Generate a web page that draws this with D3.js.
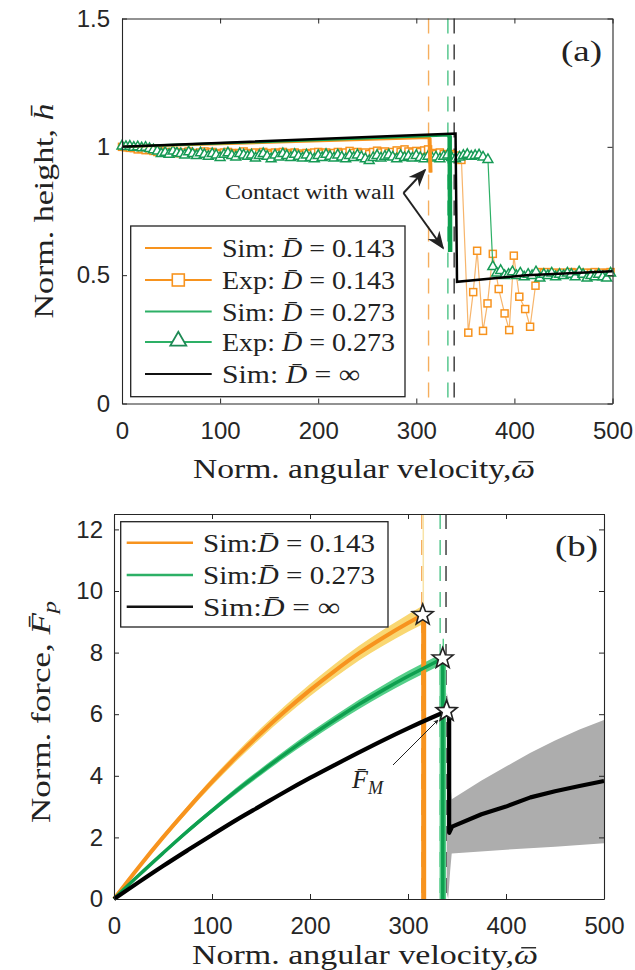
<!DOCTYPE html>
<html><head><meta charset="utf-8">
<script src="https://cdn.jsdelivr.net/npm/d3@7"></script>
<style>body{margin:0;background:#fff}svg{display:block}text{white-space:pre}</style>
</head><body>
<svg id="c" width="635" height="970"></svg>
<script>
// ---------- DATA ----------
const xTicks = [0, 100, 200, 300, 400, 500];
const yTicksA = [0, 0.5, 1, 1.5];
const yTickLabelsA = ["0", "0.5", "1", "1.5"];
const yTicksB = [0, 2, 4, 6, 8, 10, 12];

// Panel (a): normalized height
const simA_0143 = [[0, 1.0], [313.5, 1.035], [314.5, 0.90]];
const simA_0273 = [[0, 1.0], [334, 1.045], [334.5, 0.59]];
const simA_inf = [[0, 1.0], [340, 1.052], [341.5, 0.474], [412, 0.50], [500, 0.515]];
const expA_0143 = [[0,1.0],[4,0.998],[8,0.996],[12,0.995],[16,0.99],[20,0.992],[24,0.987],[28,0.988],[32,0.984],[36,0.98],[40,0.982],[44,0.978],[48,0.98],[52,0.976],[56,0.98],[60,0.975],[64,0.978],[68,0.982],[72,0.976],[76,0.972],[80,0.978],[84,0.982],[88,0.975],[92,0.98],[96,0.976],[100,0.972],[104,0.978],[108,0.98],[112,0.976],[116,0.97],[120,0.976],[124,0.982],[128,0.976],[132,0.972],[136,0.978],[140,0.974],[144,0.98],[148,0.976],[152,0.97],[156,0.978],[160,0.974],[164,0.98],[168,0.976],[172,0.97],[176,0.978],[180,0.974],[184,0.968],[188,0.976],[192,0.972],[196,0.978],[200,0.98],[204,0.974],[208,0.978],[212,0.972],[216,0.976],[220,0.98],[224,0.974],[228,0.978],[232,0.984],[236,0.976],[240,0.98],[244,0.974],[248,0.978],[252,0.972],[256,0.98],[260,0.985],[264,0.978],[268,0.982],[272,0.976],[276,0.98],[280,0.986],[284,0.98],[288,0.99],[292,0.982],[296,0.978],[300,0.984],[304,0.98],[308,0.986],[312,0.99],[316,0.976],[320,0.972],[324,0.978],[328,0.972],[332,0.968],[336,0.972],[340,0.966],[346,0.949],[353,0.276],[358,0.434],[362,0.595],[368,0.283],[372.6,0.39],[378,0.583],[384,0.446],[390,0.351],[394.7,0.286],[399.4,0.576],[405,0.416],[411,0.368],[416,0.299],[421.5,0.459],[426,0.512],[430,0.508],[434,0.512],[438,0.506],[442,0.51],[446,0.505],[450,0.51],[454,0.506],[458,0.512],[462,0.508],[466,0.51],[470,0.505],[474,0.51],[478,0.508],[482,0.512],[486,0.506],[490,0.51],[494,0.508],[498,0.512]];
const expA_0273 = [[0,1.005],[4,1.003],[8,1.004],[12,1.0],[16,1.002],[20,0.998],[24,1.0],[28,0.995],[32,0.99],[36,0.985],[40,0.975],[44,0.98],[48,0.972],[52,0.985],[56,0.978],[60,0.975],[64,0.97],[68,0.982],[72,0.975],[76,0.968],[80,0.978],[84,0.972],[88,0.965],[92,0.975],[96,0.97],[100,0.96],[104,0.972],[108,0.978],[112,0.968],[116,0.962],[120,0.975],[124,0.97],[128,0.965],[132,0.97],[136,0.958],[140,0.968],[144,0.975],[148,0.965],[152,0.955],[156,0.97],[160,0.962],[164,0.975],[168,0.968],[172,0.96],[176,0.972],[180,0.965],[184,0.958],[188,0.97],[192,0.96],[196,0.955],[200,0.968],[204,0.96],[208,0.972],[212,0.965],[216,0.958],[220,0.97],[224,0.962],[228,0.955],[232,0.968],[236,0.96],[240,0.97],[244,0.963],[248,0.955],[252,0.948],[256,0.96],[260,0.968],[264,0.958],[268,0.965],[272,0.97],[276,0.962],[280,0.955],[284,0.968],[288,0.96],[292,0.965],[296,0.958],[300,0.968],[304,0.96],[308,0.955],[312,0.965],[316,0.958],[320,0.962],[324,0.955],[328,0.965],[332,0.97],[336,0.96],[340,0.955],[344,0.962],[348,0.968],[352,0.972],[356,0.965],[360,0.968],[364,0.97],[368,0.962],[373,0.952],[378,0.535],[382,0.51],[386,0.52],[390,0.5],[394,0.505],[398,0.515],[402,0.5],[406,0.51],[410,0.495],[414,0.505],[418,0.5],[422,0.515],[426,0.49],[430,0.505],[434,0.5],[438,0.51],[442,0.495],[446,0.505],[450,0.5],[454,0.51],[458,0.505],[462,0.495],[466,0.515],[470,0.505],[474,0.49],[478,0.5],[482,0.495],[486,0.505],[490,0.495],[494,0.49],[498,0.51]];
const wallA = [312.5, 332.2, 338.6]; // dashed verticals (0.143, 0.273, inf)

// Panel (b): normalized force
const simB_0143 = [[0,0],[25,1.025],[50,2.0],[75,2.92],[100,3.8],[125,4.62],[150,5.39],[175,6.11],[200,6.78],[225,7.4],[250,7.98],[275,8.49],[300,8.96],[315,9.22]];
const bandB_0143 = [0,0.05,0.08,0.1,0.12,0.14,0.16,0.18,0.2,0.22,0.24,0.26,0.28,0.3];
const simB_0273 = [[0,0],[25,0.76],[50,1.49],[75,2.2],[100,2.87],[125,3.52],[150,4.13],[175,4.72],[200,5.28],[225,5.81],[250,6.32],[275,6.79],[300,7.23],[335.4,7.81]];
const bandB_0273 = [0,0.03,0.05,0.07,0.08,0.1,0.11,0.12,0.13,0.14,0.15,0.16,0.17,0.18];
const simB_inf = [[0,0],[25,0.54],[50,1.07],[75,1.58],[100,2.08],[125,2.57],[150,3.03],[175,3.49],[200,3.93],[225,4.35],[250,4.76],[275,5.16],[300,5.54],[325,5.9],[339.4,6.1]];
const simB_infPost = [[339.4,6.1],[342,6.0],[342,2.15],[345,2.35],[375,2.75],[400,3.0],[425,3.3],[450,3.5],[475,3.67],[500,3.83]];
const grayUpper = [[339.5,6.7],[341,6.5],[342.5,4.0],[344.6,3.24],[375,3.85],[400,4.3],[425,4.75],[450,5.15],[475,5.5],[500,5.81]];
const grayLower = [[339.5,0.2],[341,0.0],[343,0.9],[344.6,1.48],[400,1.6],[450,1.7],[500,1.81]];
const dropB = [316, 335.5]; // orange & green drop to zero
const starsB = [[315, 9.22], [335.4, 7.81], [339.4, 6.1]];
const wallB = [314, 332.8, 338.8];

// ---------- STYLE ----------
const SERIF = "'Liberation Serif','Times New Roman',serif";
const SANS = "'Liberation Sans',Arial,sans-serif";
const C = {
  orange: "#F7931E", orangeLt: "#F7B56C", yellow: "#F9D772", orangeDash: "#F5AE5E",
  green: "#0E9F4F", greenLt: "#55CF89", greenExp: "#169A55", greenDash: "#4CC387",
  black: "#000", gray: "#ADADAD", axis: "#262626"
};

const svg = d3.select("#c");
const defs = svg.append("defs");
defs.append("marker").attr("id","ah").attr("viewBox","0 0 10 10").attr("refX",9).attr("refY",5)
  .attr("markerWidth",5).attr("markerHeight",5).attr("orient","auto")
  .append("path").attr("d","M0,0L10,5L0,10L3,5Z").attr("fill","#222");
defs.append("marker").attr("id","ah2").attr("viewBox","0 0 10 10").attr("refX",9).attr("refY",5)
  .attr("markerWidth",9).attr("markerHeight",9).attr("orient","auto")
  .append("path").attr("d","M0,1L10,5L0,9L3,5Z").attr("fill","#222");

function rich(g, x, y, segs, o) {
  const t = g.append("text").attr("x", x).attr("y", y).attr("font-family", SERIF)
    .attr("font-size", o.size).attr("fill", "#222");
  if (o.anchor) t.attr("text-anchor", o.anchor);
  if (o.len) t.attr("textLength", o.len).attr("lengthAdjust", "spacingAndGlyphs");
  if (o.transform) t.attr("transform", o.transform);
  segs.forEach(s => {
    const ts = t.append("tspan").text(s.t);
    if (s.i) ts.attr("font-style", "italic");
    if (s.sub) ts.attr("font-size", o.size * 0.7).attr("dy", o.size * 0.22);
  });
  return t;
}
function barLast(g, t, y, size) {
  const node = t.node();
  const e = node.getExtentOfChar(node.getNumberOfChars() - 1);
  g.append("line").attr("x1", e.x + e.width * 0.3).attr("x2", e.x + e.width * 0.92)
    .attr("y1", y - size * 0.58).attr("y2", y - size * 0.58).attr("stroke", "#222").attr("stroke-width", 1.4);
}

function frame(x, y, yTicks, yLabels, pad) {
  const g = svg.append("g");
  const [x0, x1] = x.range(), [y0, y1] = y.range();
  const fmt = yLabels ? (d, i) => yLabels[i] : d3.format("d");
  g.append("g").attr("transform", `translate(0,${y0})`)
    .call(d3.axisBottom(x).tickValues(xTicks).tickSize(-5).tickSizeOuter(0).tickPadding(18));
  g.append("g").attr("transform", `translate(0,${y1})`)
    .call(d3.axisTop(x).tickValues(xTicks).tickSize(-5).tickSizeOuter(0).tickFormat(""));
  g.append("g").attr("transform", `translate(${x0},0)`)
    .call(d3.axisLeft(y).tickValues(yTicks).tickSize(-5).tickSizeOuter(0).tickPadding(pad).tickFormat(fmt));
  g.append("g").attr("transform", `translate(${x1},0)`)
    .call(d3.axisRight(y).tickValues(yTicks).tickSize(-5).tickSizeOuter(0).tickFormat(""));
  g.selectAll(".domain").attr("stroke", C.axis).attr("stroke-width", 1.1);
  g.selectAll(".tick line").attr("stroke", C.axis).attr("stroke-width", 1);
  g.selectAll(".tick text").attr("font-family", SANS).attr("font-size", 24).attr("fill", C.axis);
  return g;
}

// ================= PANEL (a) =================
const xa = d3.scaleLinear([0, 500], [122, 612.5]);
const ya = d3.scaleLinear([0, 1.5], [403.5, 18.5]);
const la = d3.line().x(d => xa(d[0])).y(d => ya(d[1]));
const ga = svg.append("g");

const dashCols = [C.orangeDash, C.greenDash, "#333"];
wallA.forEach((w, i) => ga.append("line").attr("x1", xa(w)).attr("x2", xa(w)).attr("y1", ya(1.5)).attr("y2", ya(0))
  .attr("stroke", dashCols[i]).attr("stroke-width", 1.4).attr("stroke-dasharray", "15,11"));

ga.append("path").attr("d", la(expA_0143)).attr("fill", "none").attr("stroke", C.orangeLt).attr("stroke-width", 1.2);
ga.selectAll(".sq").data(expA_0143).join("rect").attr("x", d => xa(d[0]) - 3.5).attr("y", d => ya(d[1]) - 3.5)
  .attr("width", 7).attr("height", 7).attr("fill", "#fff").attr("stroke", C.orange).attr("stroke-width", 1.5);
ga.append("path").attr("d", la(expA_0273)).attr("fill", "none").attr("stroke", "#2DB066").attr("stroke-width", 1.2);
const tri = d3.symbol().type(d3.symbolTriangle).size(42);
ga.selectAll(".tr").data(expA_0273).join("path").attr("d", tri)
  .attr("transform", d => `translate(${xa(d[0])},${ya(d[1]) + 0.5})`)
  .attr("fill", "#fff").attr("stroke", C.greenExp).attr("stroke-width", 1.5);

ga.append("path").attr("d", la(simA_0143)).attr("fill", "none").attr("stroke", C.orange).attr("stroke-width", 2.5);
ga.append("path").attr("d", la(simA_0143.slice(1))).attr("fill", "none").attr("stroke", C.orange).attr("stroke-width", 4);
ga.append("path").attr("d", la(simA_0273)).attr("fill", "none").attr("stroke", C.green).attr("stroke-width", 2.5);
ga.append("path").attr("d", la(simA_0273.slice(1))).attr("fill", "none").attr("stroke", C.green).attr("stroke-width", 4.5);
ga.append("path").attr("d", la(simA_inf)).attr("fill", "none").attr("stroke", C.black).attr("stroke-width", 2.5);

frame(xa, ya, yTicksA, yTickLabelsA, 12);

rich(ga, 310, 199, [{t: "Contact with wall"}], {size: 20, anchor: "middle", len: 170});
ga.append("line").attr("x1", 403.5).attr("y1", 193).attr("x2", 425).attr("y2", 170)
  .attr("stroke", "#222").attr("stroke-width", 2).attr("marker-end", "url(#ah2)");
ga.append("line").attr("x1", 403.5).attr("y1", 193).attr("x2", 443).attr("y2", 248)
  .attr("stroke", "#222").attr("stroke-width", 2).attr("marker-end", "url(#ah2)");
rich(ga, 602, 61, [{t: "(a)"}], {size: 30, anchor: "end", len: 41});

const lgA = ga.append("g");
lgA.append("rect").attr("x", 130.7).attr("y", 226).attr("width", 274.3).attr("height", 170.7)
  .attr("fill", "#fff").attr("stroke", "#222").attr("stroke-width", 1.3);
const legA = [
  {lab: [{t: "Sim: "}, {t: "D\u0304", i: true}, {t: " = 0.143"}], col: C.orange, mk: null, len: 173},
  {lab: [{t: "Exp: "}, {t: "D\u0304", i: true}, {t: " = 0.143"}], col: C.orange, mk: "sq", len: 173},
  {lab: [{t: "Sim: "}, {t: "D\u0304", i: true}, {t: " = 0.273"}], col: "#2DB066", mk: null, len: 173},
  {lab: [{t: "Exp: "}, {t: "D\u0304", i: true}, {t: " = 0.273"}], col: "#2DB066", mk: "tri", len: 173},
  {lab: [{t: "Sim: "}, {t: "D\u0304", i: true}, {t: " = \u221E"}], col: "#111", mk: null, len: 138}
];
const legAy = [248, 280, 311.5, 342, 374];
legA.forEach((e, i) => {
  const y = legAy[i];
  lgA.append("line").attr("x1", 145).attr("x2", 211.7).attr("y1", y).attr("y2", y).attr("stroke", e.col).attr("stroke-width", 2.2);
  if (e.mk === "sq") lgA.append("rect").attr("x", 178.3 - 6).attr("y", y - 6).attr("width", 12).attr("height", 12)
    .attr("fill", "#fff").attr("stroke", C.orange).attr("stroke-width", 1.6);
  if (e.mk === "tri") lgA.append("path").attr("d", d3.symbol().type(d3.symbolTriangle).size(110))
    .attr("transform", `translate(178.3,${y - 1})`).attr("fill", "#fff").attr("stroke", "#1E8A55").attr("stroke-width", 1.8);
  rich(lgA, 222, y + 9, e.lab, {size: 26, len: e.len});
});

const xlA = rich(ga, 364, 478, [{t: "Norm. angular velocity,"}, {t: "\u03C9", i: true}], {size: 28, anchor: "middle", len: 342});
barLast(ga, xlA, 478, 28);
rich(ga, 0, 0, [{t: "Norm. height, "}, {t: "h\u0304", i: true}], {size: 28, anchor: "middle", len: 215, transform: "translate(53,211) rotate(-90)"});

// ================= PANEL (b) =================
const xb = d3.scaleLinear([0, 500], [114, 604]);
const yb = d3.scaleLinear([0, 12.5], [899, 514]);
const lb = d3.line().x(d => xb(d[0])).y(d => yb(d[1]));
const lbs = d3.line().x(d => xb(d[0])).y(d => yb(d[1])).curve(d3.curveMonotoneX);
const gb = svg.append("g");
const area = d3.area().x(d => xb(d[0])).y0(d => yb(d[1])).y1(d => yb(d[2])).curve(d3.curveMonotoneX);

gb.append("path").attr("d", area(simB_0143.map((d, i) => [d[0], d[1] - bandB_0143[i], d[1] + bandB_0143[i]])))
  .attr("fill", C.yellow);
gb.append("path").attr("d", area(simB_0273.map((d, i) => [d[0], d[1] - bandB_0273[i], d[1] + bandB_0273[i]])))
  .attr("fill", C.greenLt);
const grayPoly = grayUpper.map(d => [xb(d[0]), yb(d[1])]).concat(grayLower.slice().reverse().map(d => [xb(d[0]), yb(d[1])]));
gb.append("path").attr("d", "M" + grayPoly.join("L") + "Z").attr("fill", C.gray);

wallB.forEach((w, i) => gb.append("line").attr("x1", xb(w)).attr("x2", xb(w)).attr("y1", yb(12.5)).attr("y2", yb(0))
  .attr("stroke", dashCols[i]).attr("stroke-width", 1.4).attr("stroke-dasharray", "15,11"));

gb.append("line").attr("x1", xb(315.6)).attr("x2", xb(315.6)).attr("y1", yb(9.2)).attr("y2", yb(12.5))
  .attr("stroke", "#F8E3A6").attr("stroke-width", 1.5);
gb.append("line").attr("x1", xb(336)).attr("x2", xb(336)).attr("y1", yb(7.8)).attr("y2", yb(8.45))
  .attr("stroke", C.greenLt).attr("stroke-width", 1.5);

gb.append("path").attr("d", lbs(simB_0143)).attr("fill", "none").attr("stroke", C.orange).attr("stroke-width", 4);
gb.append("line").attr("x1", xb(dropB[0])).attr("x2", xb(dropB[0])).attr("y1", yb(9.2)).attr("y2", yb(0))
  .attr("stroke", C.orange).attr("stroke-width", 5);
gb.append("path").attr("d", lbs(simB_0273)).attr("fill", "none").attr("stroke", C.green).attr("stroke-width", 3.5);
gb.append("line").attr("x1", xb(dropB[1])).attr("x2", xb(dropB[1])).attr("y1", yb(7.8)).attr("y2", yb(0))
  .attr("stroke", C.greenLt).attr("stroke-width", 6.5);
gb.append("line").attr("x1", xb(dropB[1])).attr("x2", xb(dropB[1])).attr("y1", yb(7.8)).attr("y2", yb(0))
  .attr("stroke", C.green).attr("stroke-width", 3.5);
gb.append("path").attr("d", lbs(simB_inf)).attr("fill", "none").attr("stroke", C.black).attr("stroke-width", 4.2);
gb.append("path").attr("d", lb(simB_infPost)).attr("fill", "none").attr("stroke", C.black).attr("stroke-width", 4.2)
  .attr("stroke-linejoin", "round");

function starPath(cx, cy, R, r) {
  const p = [];
  for (let k = 0; k < 10; k++) {
    const a = -Math.PI / 2 + k * Math.PI / 5, rad = k % 2 ? r : R;
    p.push([cx + rad * Math.cos(a), cy + rad * Math.sin(a)]);
  }
  return "M" + p.join("L") + "Z";
}
starsB.forEach(s => gb.append("path").attr("d", starPath(xb(s[0]), yb(s[1]), 11, 4.6))
  .attr("fill", "#fff").attr("stroke", "#222").attr("stroke-width", 1.6).attr("stroke-linejoin", "miter"));

frame(xb, yb, yTicksB, null, 11);

gb.append("line").attr("x1", 393).attr("y1", 765).attr("x2", 438).attr("y2", 720)
  .attr("stroke", "#222").attr("stroke-width", 1).attr("marker-end", "url(#ah)");
rich(gb, 352, 788, [{t: "F\u0304", i: true}, {t: "M", i: true, sub: true}], {size: 26});
rich(gb, 598, 556, [{t: "(b)"}], {size: 30, anchor: "end", len: 43});

const lgB = gb.append("g");
lgB.append("rect").attr("x", 120.7).attr("y", 521.7).attr("width", 267.3).attr("height", 105.3)
  .attr("fill", "#fff").attr("stroke", "#222").attr("stroke-width", 1.3);
const legB = [
  {lab: [{t: "Sim:"}, {t: "D\u0304", i: true}, {t: " = 0.143"}], col: C.orange, len: 172},
  {lab: [{t: "Sim:"}, {t: "D\u0304", i: true}, {t: " = 0.273"}], col: "#2DB066", len: 172},
  {lab: [{t: "Sim:"}, {t: "D\u0304", i: true}, {t: " = \u221E"}], col: "#111", len: 137}
];
const legBy = [542.7, 575, 606.7];
legB.forEach((e, i) => {
  const y = legBy[i];
  lgB.append("line").attr("x1", 126.7).attr("x2", 193).attr("y1", y).attr("y2", y).attr("stroke", e.col).attr("stroke-width", 2.4);
  rich(lgB, 203, y + 9, e.lab, {size: 26, len: e.len});
});

const xlB = rich(gb, 365, 964, [{t: "Norm. angular velocity,"}, {t: "\u03C9", i: true}], {size: 28, anchor: "middle", len: 346});
barLast(gb, xlB, 964, 28);
rich(gb, 0, 0, [{t: "Norm. force, "}, {t: "F\u0304", i: true}, {t: "p", i: true, sub: true}], {size: 28, anchor: "middle", len: 222, transform: "translate(50,712) rotate(-90)"});
</script>
</body></html>
